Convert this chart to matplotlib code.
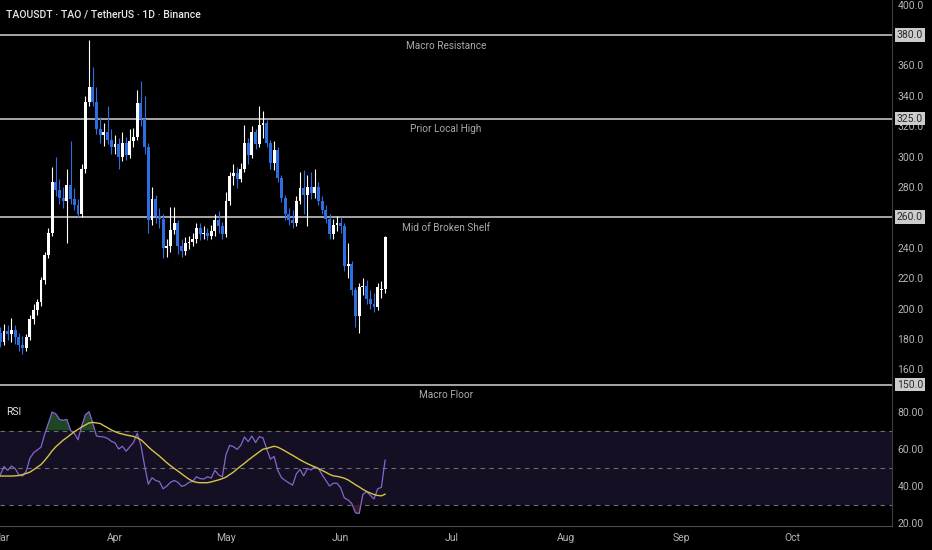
import numpy as np
import matplotlib
matplotlib.use("Agg")
import matplotlib.pyplot as plt

plt.rcParams['font.family'] = ['Roboto', 'DejaVu Sans']

# daily candles, day 0 = 1 March
opens = [184, 178, 185, 183, 186, 181, 176, 174, 181, 193,
         199, 204, 219, 235, 250, 283, 278, 273, 271, 281,
         272, 268, 262, 292, 336, 346, 336, 318, 314, 316,
         311, 306, 308, 300, 309, 301, 310, 313, 335, 325,
         306, 258, 272, 261, 259, 240, 241, 252, 256, 241,
         238, 243, 244, 246, 253, 249, 250, 248, 251, 258,
         254, 249, 271, 287, 289, 285, 292, 309, 301, 316,
         308, 321, 322, 309, 296, 304, 286, 273, 262, 258,
         256, 271, 279, 275, 280, 276, 280, 271, 265, 259,
         249, 255, 256, 254, 228, 229, 212, 195, 214, 215,
         206, 203, 201, 212, 213]
closes = [178, 185, 183, 186, 181, 176, 174, 181, 193, 199,
          204, 219, 235, 250, 283, 278, 273, 271, 281, 272,
          268, 262, 292, 336, 346, 336, 318, 314, 316, 311,
          306, 308, 300, 309, 301, 310, 313, 335, 325, 306,
          258, 272, 261, 259, 240, 241, 252, 256, 241, 238,
          243, 244, 246, 253, 249, 250, 248, 251, 258, 254,
          249, 271, 287, 289, 285, 292, 309, 301, 316, 308,
          321, 322, 309, 296, 304, 286, 273, 262, 258, 256,
          271, 279, 275, 280, 276, 280, 271, 265, 259, 249,
          255, 256, 254, 228, 229, 212, 195, 214, 215, 206,
          203, 201, 214, 213, 247]
highs = [188, 190, 189, 194, 189, 184, 182, 183, 196, 203,
         206, 221, 237, 253, 293, 300, 285, 280, 292, 310,
         279, 272, 295, 340, 377, 359, 346, 326, 322, 333,
         318, 314, 312, 316, 313, 318, 319, 344, 350, 340,
         309, 280, 275, 266, 262, 246, 267, 267, 258, 246,
         247, 248, 250, 256, 256, 254, 253, 255, 262, 264,
         257, 277, 290, 295, 293, 296, 321, 312, 320, 318,
         333, 330, 324, 311, 310, 306, 288, 275, 266, 265,
         274, 290, 291, 288, 290, 292, 283, 274, 268, 262,
         259, 261, 260, 256, 243, 231, 214, 217, 220, 219,
         212, 210, 217, 218, 248]
lows = [175, 176, 179, 178, 177, 172, 170, 172, 179, 190,
        196, 202, 216, 233, 248, 274, 269, 266, 243, 269,
        265, 260, 260, 289, 333, 333, 315, 309, 307, 308,
        302, 302, 292, 297, 298, 299, 306, 311, 320, 302,
        250, 255, 256, 253, 233, 234, 237, 249, 236, 234,
        235, 239, 241, 243, 245, 246, 245, 246, 248, 250,
        246, 247, 268, 281, 279, 283, 290, 295, 299, 305,
        306, 312, 306, 292, 291, 283, 270, 258, 255, 253,
        254, 269, 262, 254, 272, 273, 268, 262, 256, 246,
        246, 251, 250, 225, 220, 209, 188, 184, 209, 203,
        200, 198, 199, 207, 210]

rsi = [46, 50.5, 48.5, 50.8, 49.5, 46, 45.4, 48, 55, 58,
       59.5, 61, 68, 74, 80, 79, 76, 75.5, 76, 70,
       68.5, 65, 72.5, 78.5, 80.2, 74, 67, 66.7, 66.5, 65.7,
       64.2, 63.3, 60, 61.5, 58.8, 61.2, 63.5, 68.5, 62, 51,
       41, 44.5, 43, 42.4, 38.5, 40, 42, 43, 42, 39.8,
       40.5, 42, 42.4, 45, 44, 43.8, 45, 44.3, 48.5, 46,
       45, 57, 62, 61.3, 59.8, 62, 66.5, 64, 67, 63.5,
       66.7, 66, 60, 54.5, 56, 48.5, 44.5, 43, 41.7, 40.5,
       46.5, 49, 45.5, 49.5, 48.7, 50.4, 49.5, 46, 43, 40,
       41.5, 41.5, 39, 33.5, 32.5, 30.5, 25.5, 25.2, 35.5, 37,
       35, 33, 38.5, 39.3, 54]
rsi_ma = [45.4, 45.4, 45.4, 45.4, 45.5, 45.7, 46.2, 46.8, 47.5, 48.8,
          50.2, 51.6, 53.8, 56.3, 59, 61.2, 63, 64.8, 66.2, 67.8,
          69.3, 70.6, 71.9, 73, 74.1, 74.4, 74.1, 73.8, 72.6, 71.5,
          70.3, 69.4, 68.6, 68.1, 67.6, 67.2, 66.8, 66, 65, 63.2,
          61.2, 59.4, 57.8, 56.2, 54.4, 52.6, 51, 49.5, 48.1, 46.6,
          45.1, 43.7, 42.6, 42, 41.8, 41.8, 41.8, 42.2, 42.8, 43.3,
          44, 44.8, 46.2, 47.5, 49.2, 50.8, 52.3, 54, 55.5, 57,
          58.5, 59.9, 60.3, 60.9, 61.5, 61, 60, 58.9, 57.7, 56.6,
          55.4, 54.2, 53.1, 52.1, 51.2, 50.3, 49.4, 48.4, 47.4, 46.3,
          45.5, 45.2, 44.8, 44.2, 43.3, 42, 40.7, 39.5, 38.2, 37.1,
          36.2, 35.4, 34.9, 34.7, 35.6]

levels = [380, 325, 260, 150]
level_names = ["Macro Resistance", "Prior Local High", "Mid of Broken Shelf", "Macro Floor"]

month_days = [0, 31, 61, 92, 122, 153, 184, 214]
month_names = ["Mar", "Apr", "May", "Jun", "Jul", "Aug", "Sep", "Oct"]

UP = "#ffffff"
DOWN = "#2e6ee0"
TXT = "#b4b4b4"
GRID_LINE = "#3c3c3c"

days = np.arange(len(closes))
o = np.array(opens, float)
c = np.array(closes, float)
cols = [UP if cc >= oo else DOWN for oo, cc in zip(o, c)]

fig = plt.figure(figsize=(9.32, 5.5), dpi=100, facecolor="black")
ax_rsi = fig.add_axes([0, 0.04364, 892 / 932, 0.25636], facecolor="black")
ax = fig.add_axes([0, 0.3, 892 / 932, 0.7], facecolor="black", sharex=ax_rsi)

# candles
ax.vlines(days, lows, highs, colors=cols, lw=0.8, zorder=3)
body_lo = np.minimum(o, c)
body_h = np.maximum(np.abs(c - o), 0.7)
ax.bar(days, body_h, bottom=body_lo, width=0.8, color=cols, linewidth=0, zorder=4)

# levels
for v, name in zip(levels, level_names):
    ax.axhline(v, color="#a6a6a6", lw=1.4, zorder=2, clip_on=False)
    ax.annotate(name, xy=(120.5, v), xytext=(0, -4), textcoords="offset points",
                ha="center", va="top", color="#aaaaaa", fontsize=7.2, annotation_clip=False,
                zorder=6)
    ax.annotate(f"{v:.1f}", xy=(1, v), xycoords=("axes fraction", "data"),
                xytext=(3.5, 0), textcoords="offset points", ha="left", va="center",
                fontsize=7.5, color="#2a2a2a", annotation_clip=False, zorder=10,
                bbox=dict(boxstyle="square,pad=0.18", fc="#cccccc", ec="none"))

ax.set_xlim(-0.08, 241.0)
ax.set_ylim(149.7, 403.0)
ax.yaxis.tick_right()
ax.set_yticks(range(160, 401, 20))
ax.set_yticklabels([f"{t:.1f}" for t in range(160, 401, 20)])
ax.tick_params(axis="y", colors=TXT, labelsize=7.5, length=0, pad=4)
ax.tick_params(axis="x", bottom=False, labelbottom=False)
for s in ["top", "left", "bottom"]:
    ax.spines[s].set_visible(False)
ax.spines["right"].set_color(GRID_LINE)
ax.patch.set_visible(False)

fig.text(6 / 932, 1 - 14 / 550, "TAOUSDT · TAO / TetherUS · 1D · Binance",
         color="#e6e6e6", fontsize=7.6, va="center", ha="left", fontweight="medium")

# RSI pane
ax_rsi.axhspan(30, 70, color="#140f23", lw=0, zorder=0)
for v in [70, 50, 30]:
    ax_rsi.axhline(v, color="#6e6e7a", lw=0.8, dashes=(4, 4), zorder=1)
r = np.array(rsi)
ax_rsi.fill_between(days, r, 70, where=r > 70, interpolate=True, color="#1d4526", lw=0, zorder=2)
ax_rsi.fill_between(days, r, 30, where=r < 30, interpolate=True, color="#3a1a22", lw=0, zorder=2)
ax_rsi.plot(days, rsi, color="#8466cc", lw=0.9, zorder=3)
ax_rsi.plot(days, rsi_ma, color="#d6c445", lw=1.0, zorder=4)
ax_rsi.text(6 / 892, 0.81, "RSI", transform=ax_rsi.transAxes, color="#e2e2e2",
            fontsize=7.5, va="center", ha="left")

ax_rsi.set_ylim(18.4, 94.6)
ax_rsi.yaxis.tick_right()
ax_rsi.set_yticks([20, 40, 60, 80])
ax_rsi.set_yticklabels(["20.00", "40.00", "60.00", "80.00"])
ax_rsi.tick_params(axis="y", colors=TXT, labelsize=7.5, length=0, pad=4)
ax_rsi.set_xticks(month_days)
ax_rsi.set_xticklabels(month_names)
ax_rsi.tick_params(axis="x", colors=TXT, labelsize=7.5, length=0, pad=5)
for s in ["top", "left"]:
    ax_rsi.spines[s].set_visible(False)
ax_rsi.spines["right"].set_color(GRID_LINE)
ax_rsi.spines["bottom"].set_color("#4a4a4a")

fig.savefig("out.png", dpi=100, facecolor="black")
